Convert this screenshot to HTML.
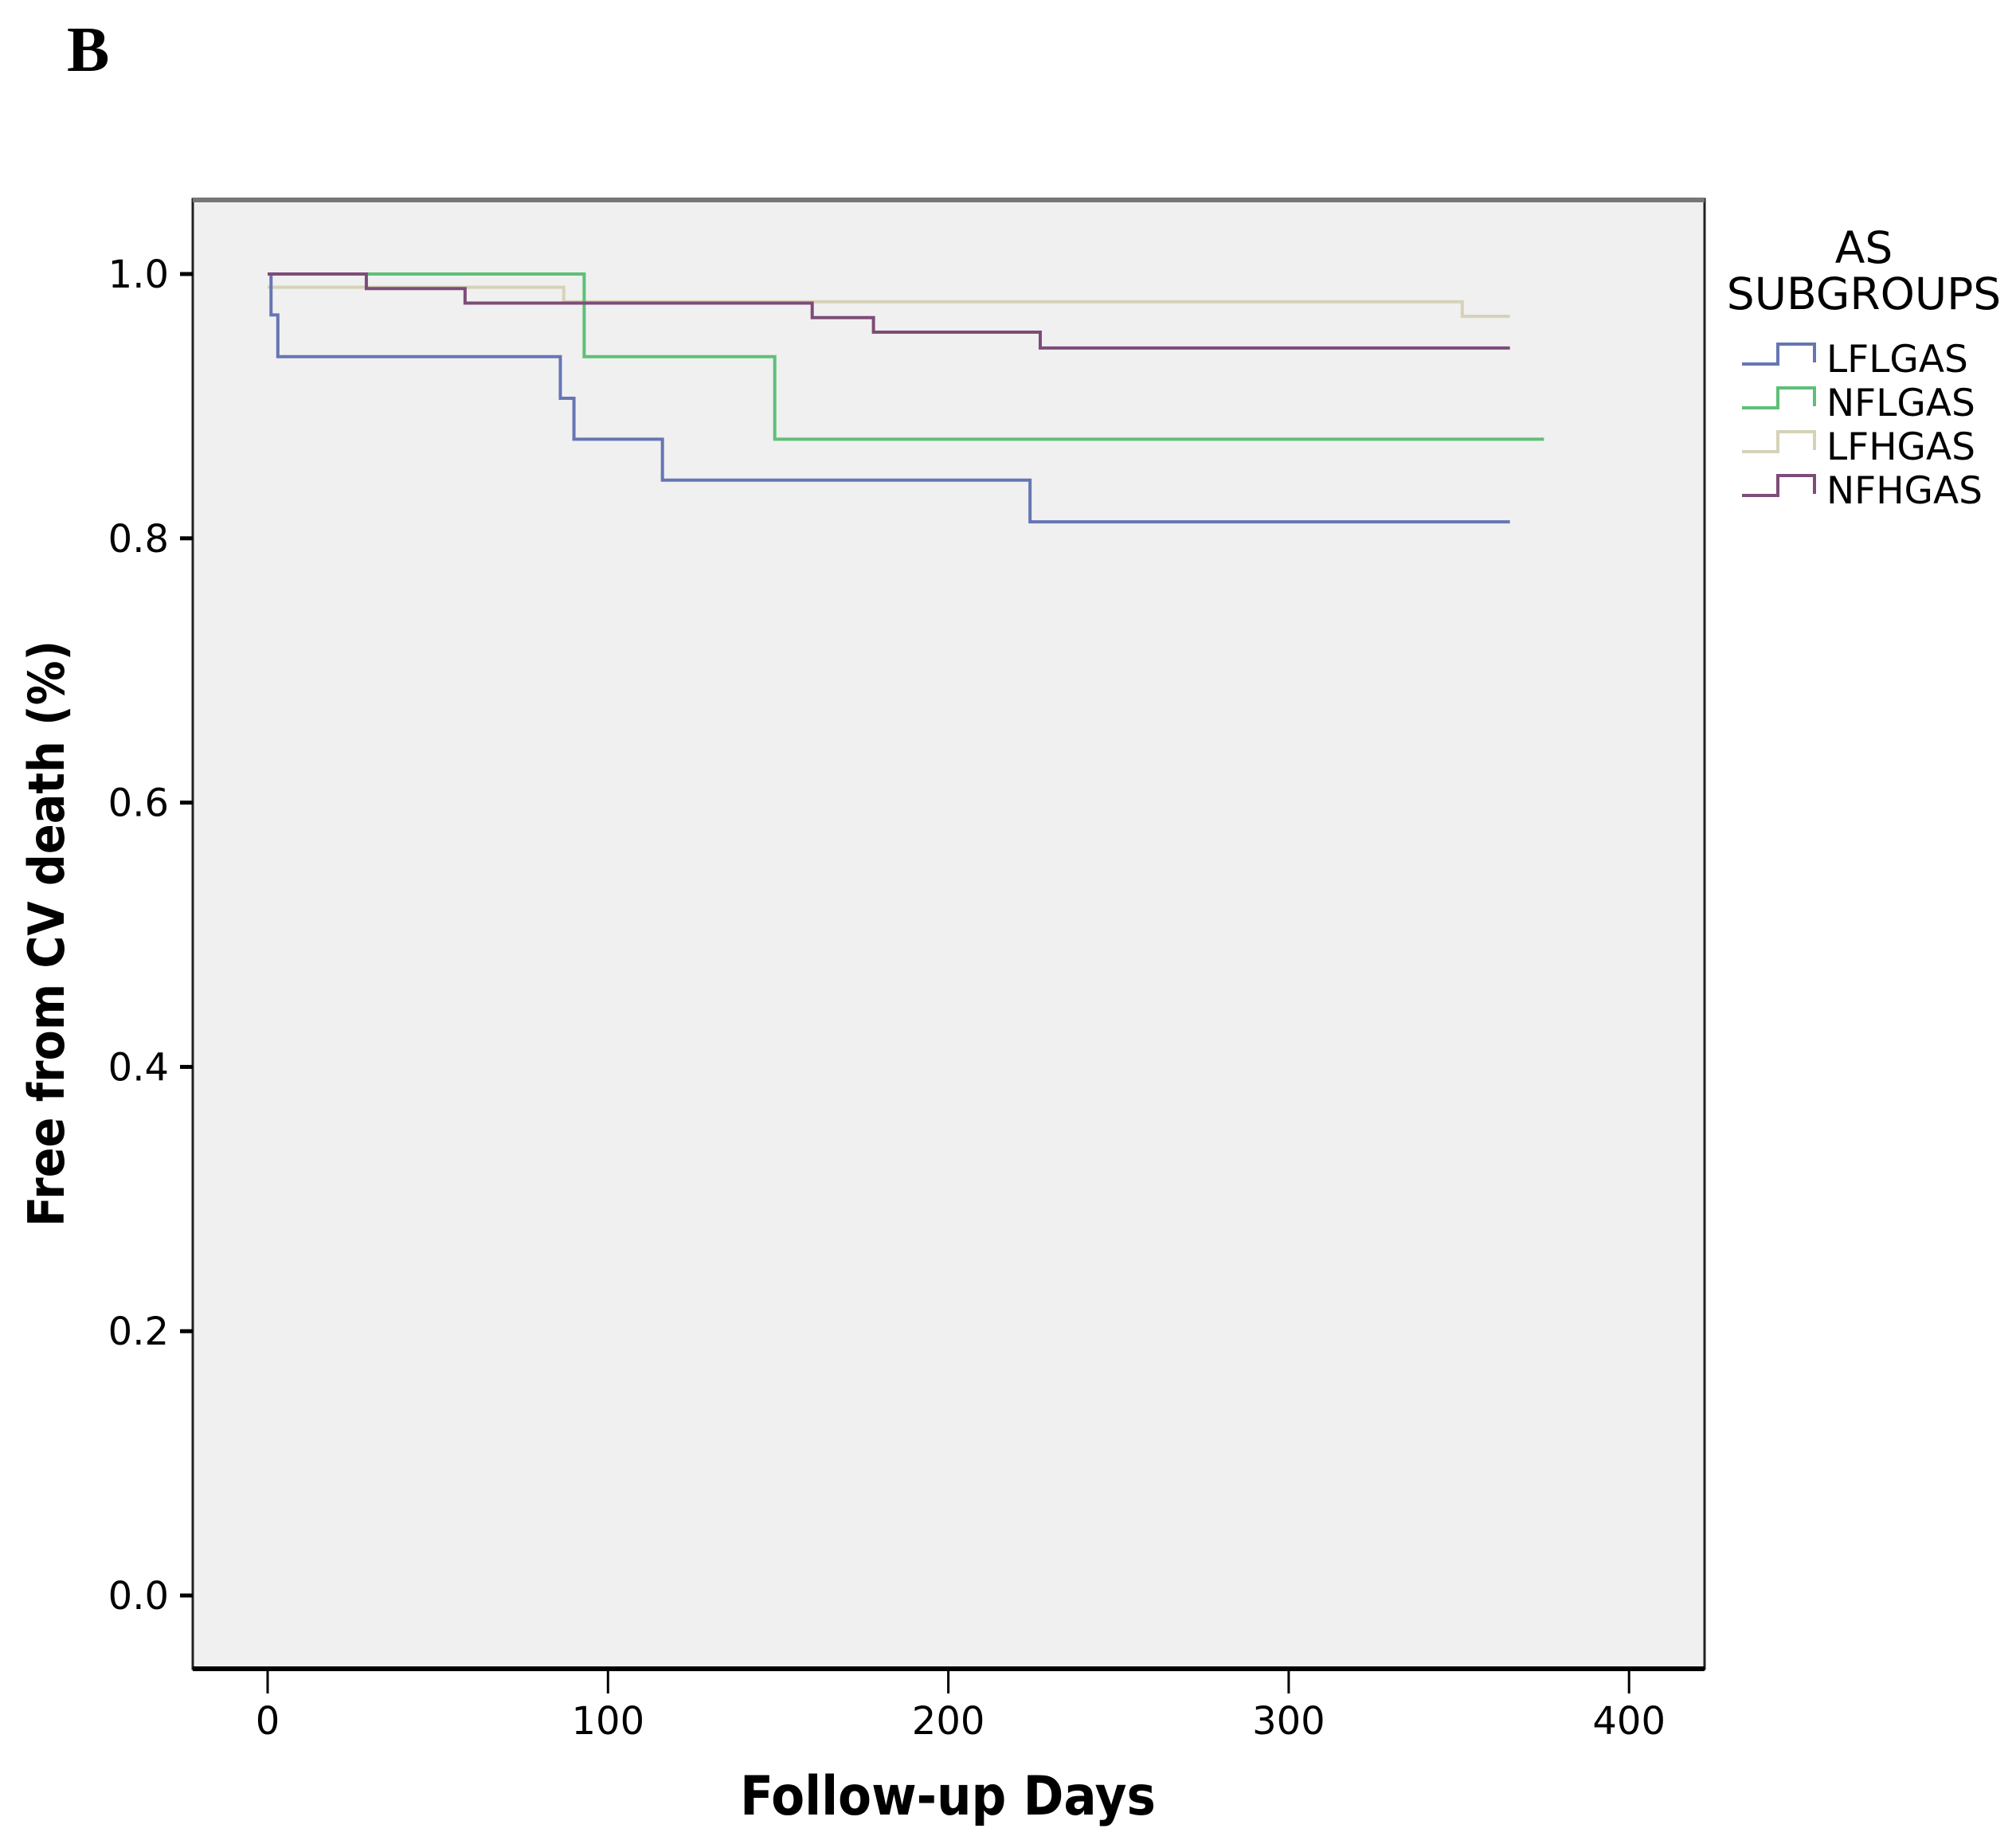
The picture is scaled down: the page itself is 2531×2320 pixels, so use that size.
<!DOCTYPE html>
<html><head><meta charset="utf-8"><style>
html,body{margin:0;padding:0;background:#fff}
svg{display:block}
text{font-family:"DejaVu Sans Condensed","DejaVu Sans","Liberation Sans",sans-serif}
.wide{font-family:"DejaVu Sans","Liberation Sans",sans-serif}
</style></head><body>
<svg id="chart" width="2531" height="2320" viewBox="0 0 2531 2320">
<text x="84" y="89" font-weight="bold" font-size="80" style="font-family:'Liberation Serif',serif">B</text>
<rect x="242" y="250" width="1898" height="1845" fill="#f0f0f0" stroke="#222" stroke-width="3"/>
<line x1="242" y1="251" x2="2140" y2="251" stroke="#777" stroke-width="6"/>
<line x1="242" y1="2095" x2="2140" y2="2095" stroke="#000" stroke-width="6"/>
<g id="yaxis"></g>
<g id="xaxis"></g>
<g id="series"></g>
<text transform="translate(80,1172) rotate(-90)" text-anchor="middle" font-weight="bold" font-size="62">Free from CV death (%)</text>
<text x="1190" y="2278" text-anchor="middle" font-weight="bold" font-size="68">Follow-up Days</text>
<g>
<text class="wide" x="2340" y="330" text-anchor="middle" font-size="55">AS</text>
<text class="wide" x="2340" y="388" text-anchor="middle" font-size="55">SUBGROUPS</text>
<g id="legend-items"></g>
</g>
</svg>
<script>
const yTicks=[0.0,0.2,0.4,0.6,0.8,1.0];
const yTickLabels=["0.0","0.2","0.4","0.6","0.8","1.0"];
const xTicks=[0,100,200,300,400];
const xTickLabels=["0","100","200","300","400"];
const seriesNames=["LFLGAS","NFLGAS","LFHGAS","NFHGAS"];
const seriesColors=["#6676b4","#5fbf78","#d6d2b8","#7e4c78"];
const lflgasTimes=[0,1,3,86,90,116,224,365];
const lflgasSurv=[1.0,0.969,0.9375,0.906,0.875,0.844,0.8125,0.8125];
const nflgasTimes=[0,93,149,375];
const nflgasSurv=[1.0,0.9375,0.875,0.875];
const lfhgasTimes=[0,87,351,365];
const lfhgasSurv=[0.99,0.979,0.968,0.968];
const nfhgasTimes=[0,29,58,160,178,227,365];
const nfhgasSurv=[1.0,0.989,0.978,0.967,0.956,0.944,0.944];

const NS="http://www.w3.org/2000/svg";
function X(t){return 336+t*4.273;}
function Y(v){return 2003-v*1659;}
function mk(tag,attrs,parent){const e=document.createElementNS(NS,tag);for(const k in attrs)e.setAttribute(k,attrs[k]);parent.appendChild(e);return e;}
const ya=document.getElementById('yaxis');
yTicks.forEach((v,i)=>{
  const l=mk('line',{x1:226,x2:242,y1:Y(v),y2:Y(v),stroke:'#000','stroke-width':5},ya);
  
  
  const t=mk('text',{x:212,y:Y(v)+17,'text-anchor':'end','font-size':48,'class':'wide'},ya);
  t.textContent=yTickLabels[i];
  
  
});
const xa=document.getElementById('xaxis');
xTicks.forEach((v,i)=>{
  const l=mk('line',{x1:X(v),x2:X(v),y1:2095,y2:2126,stroke:'#000','stroke-width':3},xa);
  
  
  const t=mk('text',{x:X(v),y:2177,'text-anchor':'middle','font-size':48,'class':'wide'},xa);
  t.textContent=xTickLabels[i];
  
  
});
const sg=document.getElementById('series');
const all=[[lfhgasTimes,lfhgasSurv,2],[lflgasTimes,lflgasSurv,0],[nflgasTimes,nflgasSurv,1],[nfhgasTimes,nfhgasSurv,3]];
all.forEach(([ts,ss,ci])=>{
  let d='M'+X(ts[0])+','+Y(ss[0]);
  for(let i=1;i<ts.length;i++){d+=' H'+X(ts[i])+' V'+Y(ss[i]);}
  const p=mk('path',{d:d,fill:'none',stroke:seriesColors[ci],'stroke-width':4},sg);
  
  
});
const lg=document.getElementById('legend-items');
seriesNames.forEach((n,i)=>{
  const by=467+i*55;
  const p=mk('path',{d:`M2187,${by-10} H2232 V${by-35} H2278 V${by-12}`,fill:'none',stroke:seriesColors[i],'stroke-width':4},lg);
  
  
  const t=mk('text',{x:2293,y:by,'font-size':47,'class':'wide'},lg);
  t.textContent=n;
  
  
});
</script>
</body></html>
